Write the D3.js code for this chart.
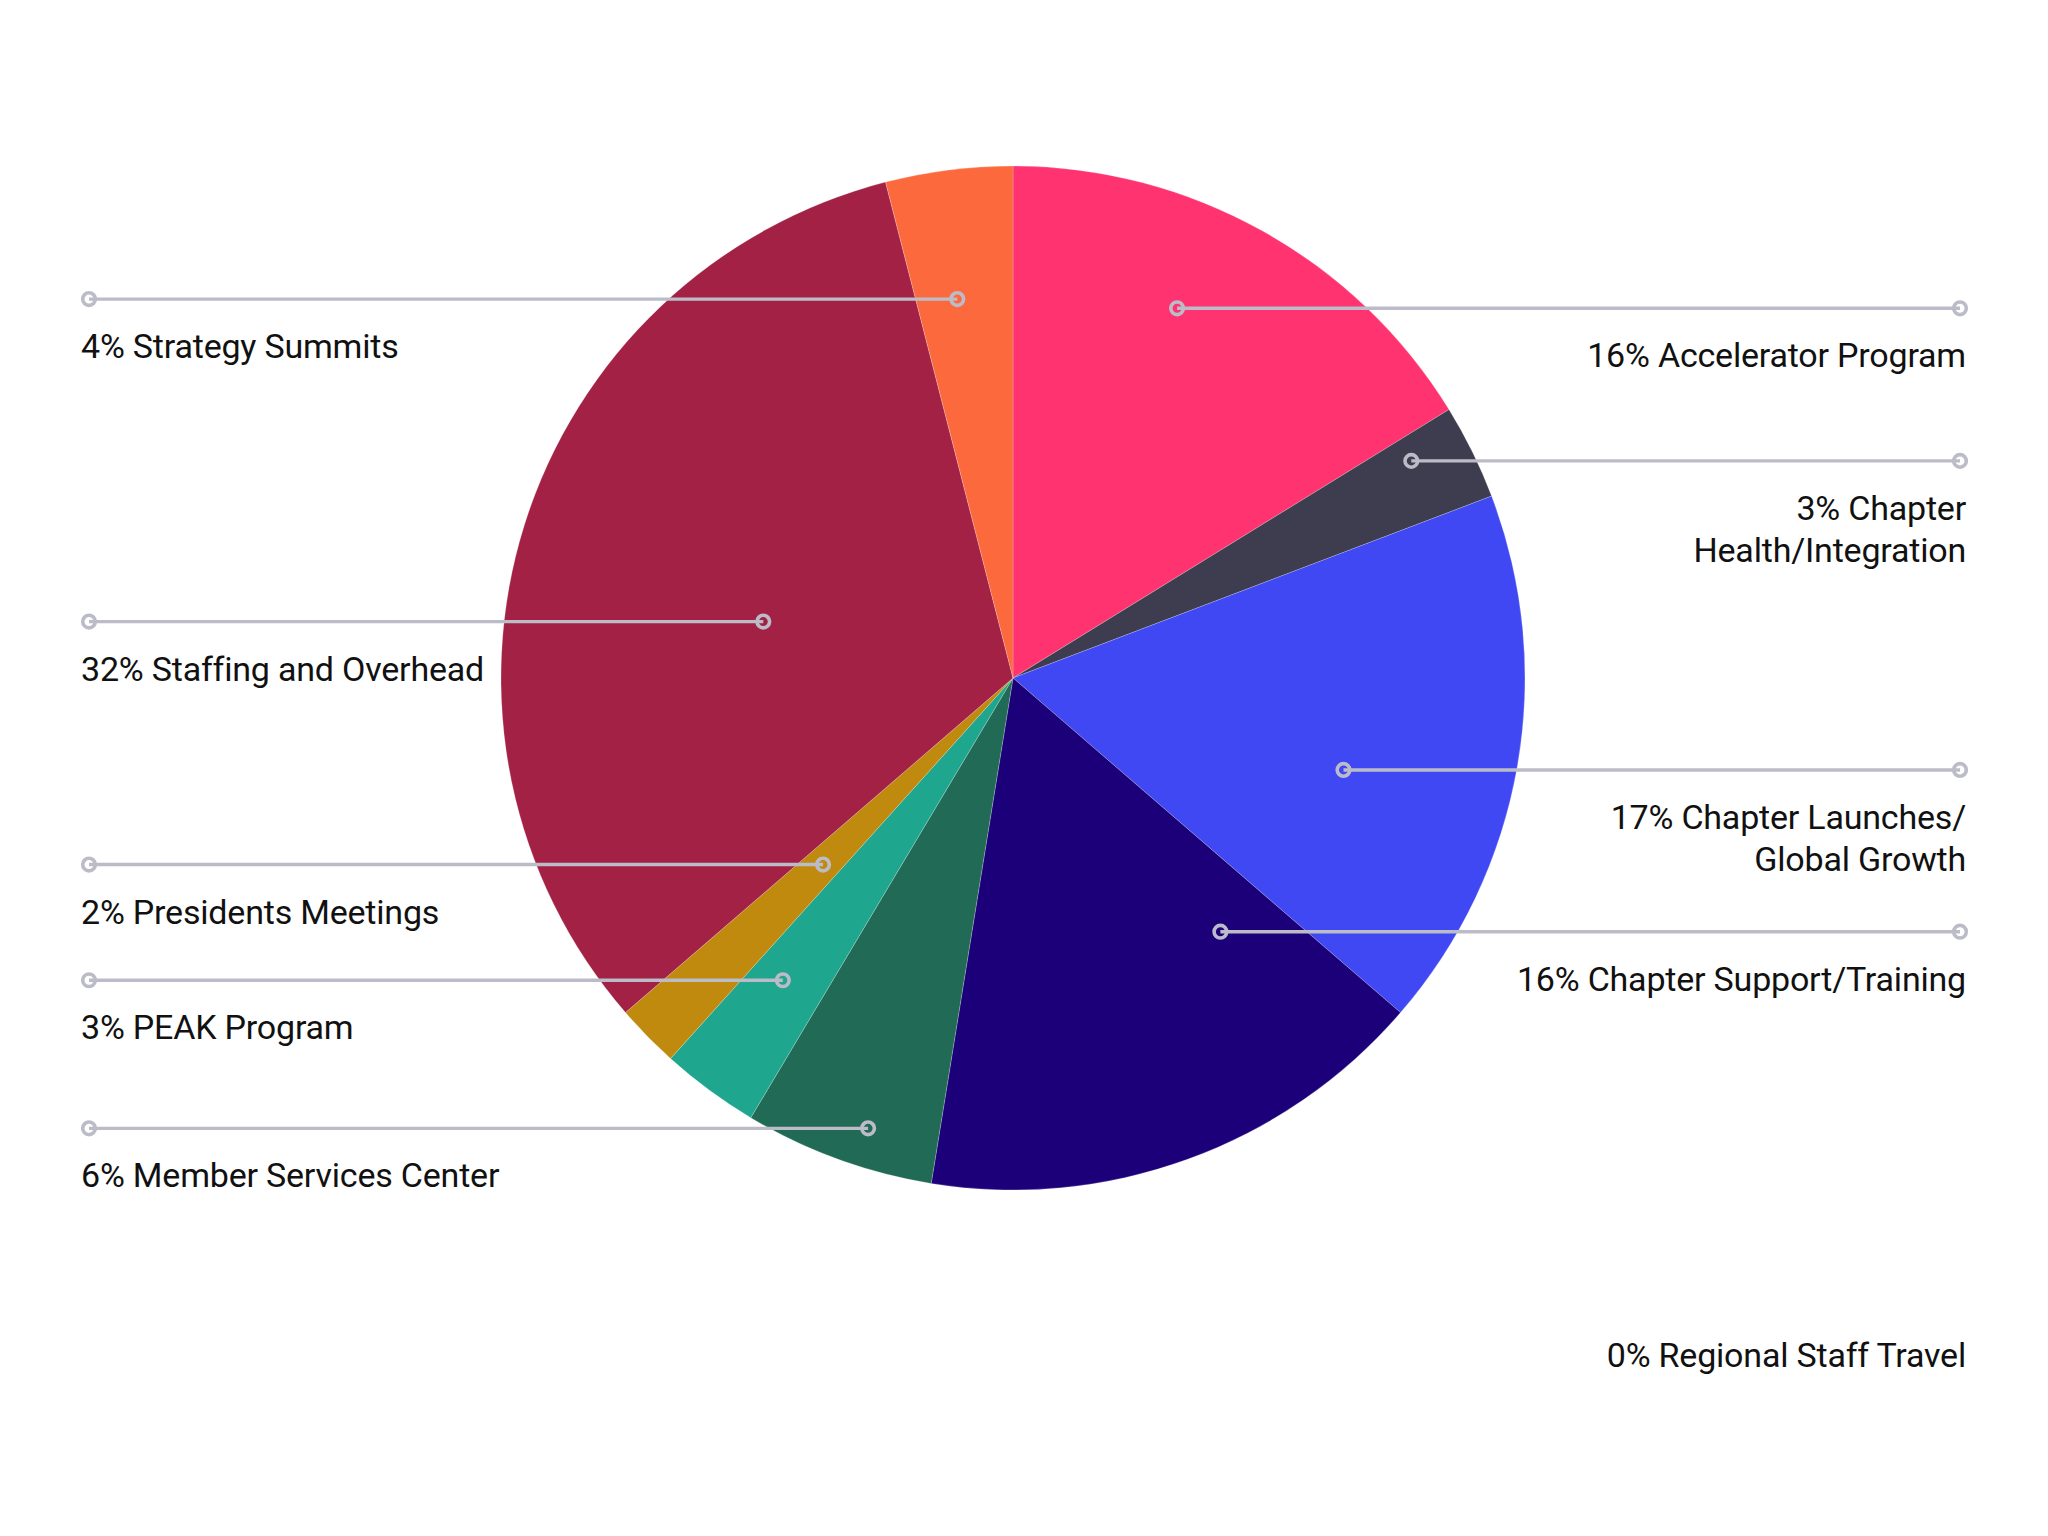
<!DOCTYPE html>
<html>
<head>
<meta charset="utf-8">
<script src="https://cdn.jsdelivr.net/npm/d3@7"></script>
<style>
  html, body { margin: 0; padding: 0; background: #fff; }
  svg { display: block; }
  text { font-family: Roboto, "Noto Sans", sans-serif; }
</style>
</head>
<body>
<svg id="chart" width="2048" height="1536"></svg>
<script>
// ---------- data ----------
const categories = [
  "Accelerator Program",
  "Chapter\nHealth/Integration",
  "Chapter Launches/\nGlobal Growth",
  "Chapter Support/Training",
  "Regional Staff Travel",
  "Member Services Center",
  "PEAK Program",
  "Presidents Meetings",
  "Staffing and Overhead",
  "Strategy Summits"
];
const values = [16.2, 3.0, 17.1, 16.2, 0, 6.0, 3.1, 2.0, 32.3, 4.0];
const colors = ["#FF3370", "#3D3D4F", "#3F48F2", "#1C007A", "#8A8A8A",
                "#216A55", "#1FA68F", "#BF8A0E", "#A32145", "#FC693D"];

// ---------- layout (label anchor placement inside each slice) ----------
const anchorT = [0.41, 0.28, 0.59, 0.17, null, 0.40, 0.58, 0.49, 0.46, 0.42]; // fraction along slice angle
const anchorK = [0.79, 0.886, 0.67, 0.64, null, 0.924, 0.742, 0.52, 0.50, 0.748]; // fraction of radius

const W = 2048, H = 1536;
const cx = 1013, cy = 678, R = 512;
const leftDotX = 89, rightDotX = 1960;
const leftTextX = 81, rightTextX = 1966;
const textOffset = 59, lineHeight = 42;
const fontSize = 34;
const guideColor = "#BCBCC8";

const svg = d3.select("#chart");
const g = svg.append("g").attr("transform", `translate(${cx},${cy})`);

const data = categories.map((c, i) => ({ category: c, value: values[i], color: colors[i], i }));
const total = d3.sum(values);

const pie = d3.pie().sort(null).value(d => d.value).startAngle(0).endAngle(2 * Math.PI);
const arcs = pie(data);
const rScale = d3.scaleLinear().domain([0, 1]).range([0, R]);
const arc = d3.arc().innerRadius(0).outerRadius(rScale(1));

g.selectAll("path.slice")
  .data(arcs.filter(a => a.data.value > 0))
  .join("path")
  .attr("class", "slice")
  .attr("d", arc)
  .attr("fill", d => d.data.color)
  .attr("stroke", "#ffffff")
  .attr("stroke-opacity", 0.35)
  .attr("stroke-width", 0.6);

// labels
const labelsG = svg.append("g");
arcs.forEach(a => {
  const d = a.data;
  const pct = Math.round(d.value / total * 100);
  const lines = (pct + "% " + d.category).split("\n");
  let side, lineY, ax = null;
  if (d.value > 0) {
    const ang = a.startAngle + anchorT[d.i] * (a.endAngle - a.startAngle);
    const rr = rScale(anchorK[d.i]);
    ax = cx + rr * Math.sin(ang);
    lineY = cy - rr * Math.cos(ang);
    side = ax > cx ? "right" : "left";
  } else {
    side = "right";
    lineY = cy + R + 118;
  }
  const outerX = side === "right" ? rightDotX : leftDotX;
  if (ax !== null) {
    labelsG.append("line")
      .attr("x1", ax).attr("y1", lineY)
      .attr("x2", outerX).attr("y2", lineY)
      .attr("stroke", guideColor).attr("stroke-width", 3.4);
    [ax, outerX].forEach(x => {
      labelsG.append("circle")
        .attr("cx", x).attr("cy", lineY).attr("r", 6.3)
        .attr("fill", "none")
        .attr("stroke", guideColor).attr("stroke-width", 3.6);
    });
  }
  const t = labelsG.append("text")
    .attr("x", side === "right" ? rightTextX : leftTextX)
    .attr("y", lineY + textOffset)
    .attr("text-anchor", side === "right" ? "end" : "start")
    .attr("font-size", fontSize)
    .attr("letter-spacing", -0.2)
    .attr("fill", "#111111");
  lines.forEach((ln, k) => {
    t.append("tspan")
      .attr("x", side === "right" ? rightTextX : leftTextX)
      .attr("dy", k === 0 ? 0 : lineHeight)
      .text(ln);
  });
});
</script>
</body>
</html>
